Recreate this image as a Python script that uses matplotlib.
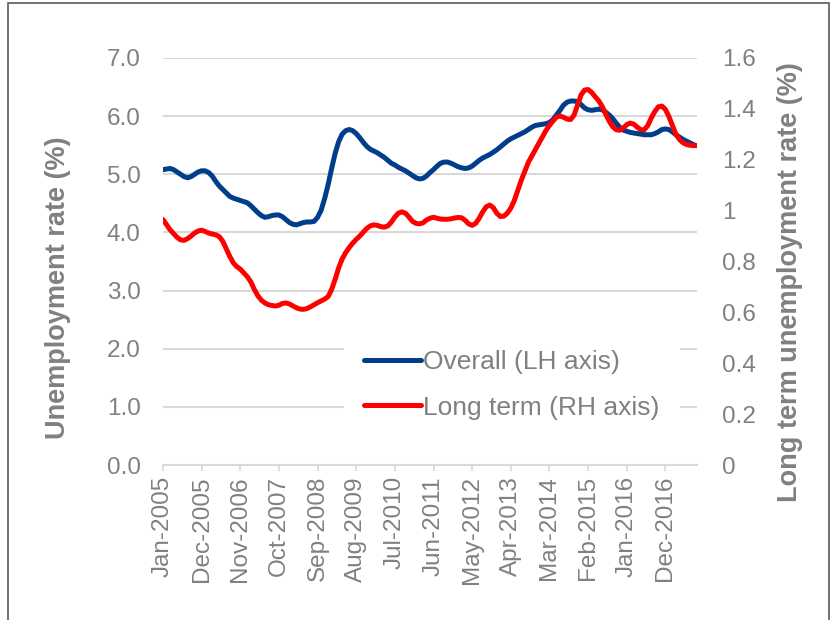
import matplotlib
matplotlib.use("Agg")
import matplotlib.pyplot as plt
import numpy as np
import pandas as pd
from matplotlib.patches import Rectangle

plt.rcParams["font.family"] = ["Liberation Sans", "DejaVu Sans"]

# monthly categories, Jan-2005 .. Sep-2017
months = pd.date_range("2005-01-01", periods=153, freq="MS")
month_labels = [d.strftime("%b-%Y") for d in months]

# overall unemployment rate (%), LH axis
overall = [
    5.08, 5.09, 5.10, 5.08, 5.04, 5.00, 4.96, 4.94, 4.96, 5.00, 5.04, 5.06,
    5.06, 5.03, 4.97, 4.88, 4.80, 4.74, 4.68, 4.62, 4.59, 4.57, 4.55, 4.53,
    4.51, 4.46, 4.40, 4.34, 4.29, 4.26, 4.27, 4.29, 4.30, 4.30, 4.27, 4.22,
    4.17, 4.14, 4.13, 4.15, 4.17, 4.18, 4.18, 4.19, 4.26, 4.38, 4.58, 4.82,
    5.10, 5.36, 5.56, 5.69, 5.75, 5.77, 5.75, 5.70, 5.63, 5.55, 5.48, 5.43,
    5.40, 5.37, 5.33, 5.29, 5.24, 5.19, 5.16, 5.12, 5.09, 5.06, 5.02, 4.98,
    4.94, 4.92, 4.93, 4.97, 5.03, 5.08, 5.14, 5.19, 5.21, 5.21, 5.19, 5.16,
    5.13, 5.11, 5.10, 5.11, 5.14, 5.19, 5.24, 5.28, 5.31, 5.34, 5.38, 5.42,
    5.47, 5.52, 5.57, 5.61, 5.64, 5.67, 5.70, 5.73, 5.77, 5.81, 5.84, 5.85,
    5.86, 5.87, 5.89, 5.94, 6.02, 6.10, 6.19, 6.24, 6.26, 6.26, 6.25, 6.20,
    6.14, 6.11, 6.10, 6.11, 6.12, 6.11, 6.07, 6.02, 5.96, 5.88, 5.81, 5.76,
    5.74, 5.72, 5.71, 5.70, 5.69, 5.68, 5.68, 5.68, 5.70, 5.73, 5.77, 5.78,
    5.77, 5.73, 5.68, 5.64, 5.60, 5.57, 5.54, 5.51, 5.49,
]

# long term unemployment rate (%), RH axis
long_term = [
    0.965, 0.945, 0.925, 0.910, 0.895, 0.885, 0.883, 0.890, 0.900, 0.912, 0.920, 0.923,
    0.918, 0.912, 0.908, 0.905, 0.898, 0.880, 0.850, 0.820, 0.795, 0.780, 0.770, 0.755,
    0.740, 0.720, 0.690, 0.665, 0.648, 0.637, 0.630, 0.627, 0.625, 0.628, 0.635, 0.637,
    0.633, 0.625, 0.618, 0.613, 0.612, 0.615, 0.622, 0.630, 0.638, 0.645, 0.652, 0.662,
    0.690, 0.730, 0.775, 0.810, 0.835, 0.855, 0.872, 0.887, 0.900, 0.915, 0.930, 0.940,
    0.944, 0.942, 0.937, 0.935, 0.940, 0.955, 0.975, 0.990, 0.995, 0.990, 0.975, 0.958,
    0.950, 0.948, 0.952, 0.963, 0.970, 0.974, 0.970, 0.967, 0.966, 0.966, 0.968, 0.971,
    0.973, 0.972, 0.962, 0.948, 0.942, 0.950, 0.970, 0.995, 1.015, 1.022, 1.012, 0.990,
    0.977, 0.978, 0.990, 1.010, 1.040, 1.080, 1.120, 1.155, 1.190, 1.215, 1.240, 1.265,
    1.290, 1.315, 1.335, 1.352, 1.368, 1.372, 1.367, 1.360, 1.358, 1.375, 1.415, 1.455,
    1.474, 1.476, 1.465, 1.448, 1.432, 1.410, 1.380, 1.352, 1.330, 1.318, 1.316, 1.325,
    1.338, 1.344, 1.340, 1.328, 1.318, 1.318, 1.335, 1.365, 1.390, 1.408, 1.411, 1.398,
    1.370, 1.335, 1.300, 1.280, 1.267, 1.260, 1.257, 1.256, 1.256,
]

left_ticks = [0, 1, 2, 3, 4, 5, 6, 7]
right_ticks = [0, 0.2, 0.4, 0.6, 0.8, 1, 1.2, 1.4, 1.6]

gray = "#808080"
grid_c = "#d9d9d9"
W, H = 833, 620

fig = plt.figure(figsize=(W / 100, H / 100), dpi=100)
ax = fig.add_axes([163 / W, 1 - 465 / H, (697 - 163) / W, (465 - 58) / H])
ax2 = ax.twinx()

x = np.arange(len(months))
l1, = ax.plot(x, overall, color="#003D8B", lw=3.6, solid_capstyle="round",
              label="Overall (LH axis)")
l2, = ax2.plot(x, long_term, color="#FF0000", lw=3.6, solid_capstyle="round",
               label="Long term (RH axis)")

ax.set_xlim(0, len(x) - 1)
ax.set_ylim(0, 7)
ax2.set_ylim(0, 1.6)

ax.set_yticks(left_ticks)
ax.set_yticklabels([f"{v:.1f}" for v in left_ticks])
ax2.set_yticks(right_ticks)
ax2.set_yticklabels([f"{v:g}" for v in right_ticks])

tick_pos = x[::11]
ax.set_xticks(tick_pos)
ax.set_xticklabels([month_labels[i] for i in tick_pos])

ax.yaxis.grid(True, color=grid_c, lw=1.5)
ax.set_axisbelow(True)

for a in (ax, ax2):
    for s in a.spines.values():
        s.set_visible(False)
ax.spines["bottom"].set_visible(True)
ax.spines["bottom"].set_color(grid_c)
ax.spines["bottom"].set_linewidth(1.5)

ax.tick_params(axis="y", length=0, pad=16, labelsize=17.5, labelcolor=gray)
ax2.tick_params(axis="y", length=0, pad=18, labelsize=17.5, labelcolor=gray)
ax.tick_params(axis="x", length=4, width=1.2, color=grid_c, pad=4,
               labelrotation=90, labelsize=17.5, labelcolor=gray)

fig.text(58 / W, 1 - 288 / H, "Unemployment rate (%)", rotation=90,
         ha="center", va="center", fontsize=19.5, fontweight="bold", color=gray)
fig.text(790 / W, 1 - 282 / H, "Long term unemployment rate (%)", rotation=90,
         ha="center", va="center", fontsize=19.5, fontweight="bold", color=gray)

leg = ax2.legend([l1, l2], [l1.get_label(), l2.get_label()], loc="center left",
                 bbox_to_anchor=(331 / W, 1 - 385 / H), bbox_transform=fig.transFigure,
                 frameon=True, facecolor="white", edgecolor="none", framealpha=1,
                 fontsize=19, handlelength=2.15, handletextpad=0.1,
                 labelspacing=0.8, borderpad=0.75, labelcolor=gray)

# outer frame of the chart
fig.patches.append(Rectangle((8 / W, -0.05), (829 - 8) / W, 1.05 - 3 / H,
                             transform=fig.transFigure, fill=False,
                             edgecolor="#595959", lw=1.2))

fig.savefig("out.png", dpi=100)
